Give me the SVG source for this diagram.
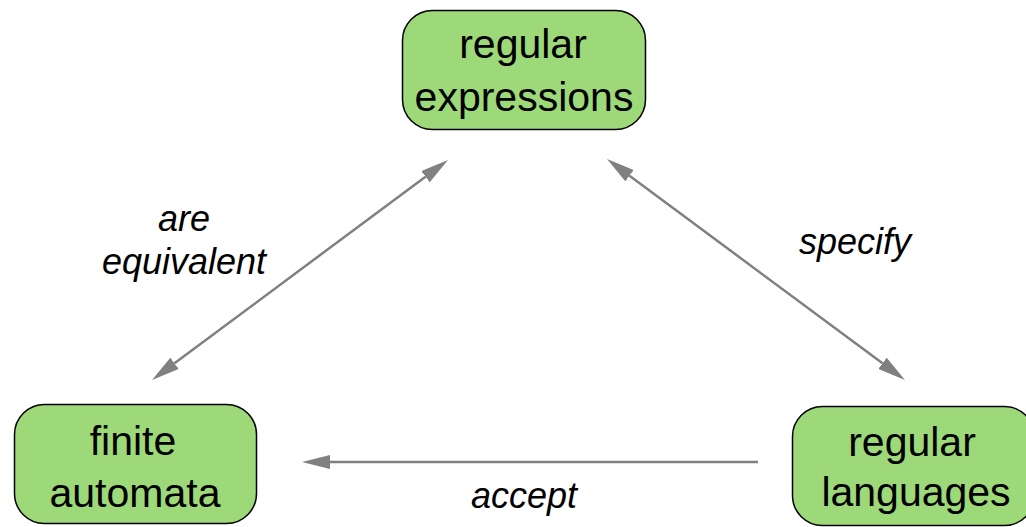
<svg xmlns="http://www.w3.org/2000/svg" width="1026" height="527" viewBox="0 0 1026 527">
  <style>
    .node rect { fill: #9dd979; stroke: #000; stroke-width: 1.5; }
    .node text { font-family: "Liberation Sans", Arial, sans-serif; font-size: 41px; fill: #000; text-anchor: middle; }
    .edge { stroke: #808080; stroke-width: 2.5; fill: none; }
    .lbl { font-family: "Liberation Sans", Arial, sans-serif; font-style: italic; font-size: 36px; fill: #000; text-anchor: middle; }
  </style>
  <defs>
    <marker id="ah" markerUnits="userSpaceOnUse" markerWidth="28" markerHeight="14" refX="0" refY="7" orient="auto-start-reverse" viewBox="0 0 28 14">
      <path d="M0,0 L28,7 L0,14 z" fill="#808080"/>
    </marker>
  </defs>
  <rect width="1026" height="527" fill="#fff"/>
  <g id="connectors">
    <line class="edge" x1="174.5" y1="363.3" x2="425.5" y2="176.7" marker-start="url(#ah)" marker-end="url(#ah)"/>
    <line class="edge" x1="629.5" y1="175.7" x2="882.5" y2="363.3" marker-start="url(#ah)" marker-end="url(#ah)"/>
    <line class="edge" x1="758" y1="462" x2="330" y2="462" marker-end="url(#ah)"/>
    <text class="lbl" x="184" y="231">are</text>
    <text class="lbl" x="184" y="274">equivalent</text>
    <text class="lbl" x="855" y="254">specify</text>
    <text class="lbl" x="524" y="508">accept</text>
  </g>
  <g id="regular-expressions" class="node">
    <rect x="402.5" y="10.5" width="243" height="119" rx="30"/>
    <text x="523" y="58">regular</text>
    <text x="524" y="111">expressions</text>
  </g>
  <g id="finite-automata" class="node">
    <rect x="14.5" y="404.5" width="242" height="119" rx="30"/>
    <text x="133" y="455">finite</text>
    <text x="135" y="507">automata</text>
  </g>
  <g id="regular-languages" class="node">
    <rect x="792.5" y="406.5" width="242" height="119" rx="30"/>
    <text x="912" y="456">regular</text>
    <text x="916" y="506">languages</text>
  </g>
</svg>
